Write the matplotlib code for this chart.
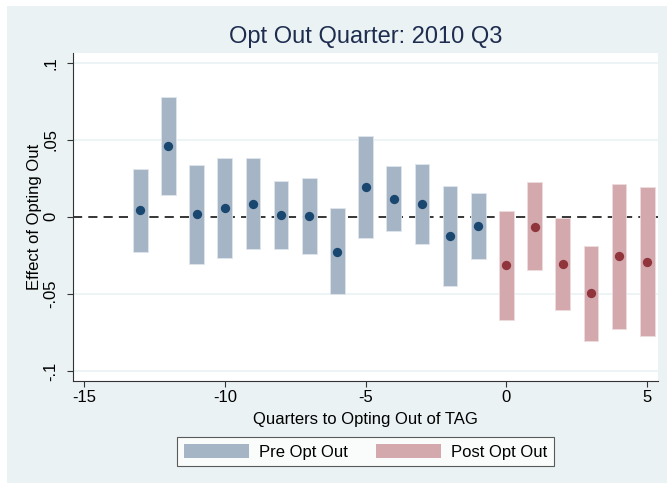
import matplotlib
matplotlib.use("Agg")
import matplotlib.pyplot as plt
from matplotlib.patches import Patch, Rectangle

plt.rcParams['font.family'] = ['Liberation Sans', 'DejaVu Sans']

# Data
pre_q = [-13, -12, -11, -10, -9, -8, -7, -6, -5, -4, -3, -2, -1]
pre_est = [0.0044, 0.0459, 0.0016, 0.0056, 0.0085, 0.0013, 0.0005, -0.0225, 0.0195, 0.0115, 0.0085, -0.0125, -0.0060]
pre_hi = [0.0312, 0.0775, 0.0334, 0.0379, 0.0379, 0.0232, 0.0251, 0.0056, 0.0524, 0.0327, 0.0342, 0.0199, 0.0156]
pre_lo = [-0.0225, 0.0143, -0.0303, -0.0266, -0.0210, -0.0210, -0.0244, -0.0502, -0.0136, -0.0095, -0.0173, -0.0450, -0.0275]

post_q = [0, 1, 2, 3, 4, 5]
post_est = [-0.0314, -0.0063, -0.0305, -0.0495, -0.0257, -0.0292]
post_hi = [0.0039, 0.0225, -0.0006, -0.0188, 0.0212, 0.0191]
post_lo = [-0.0666, -0.0348, -0.0604, -0.0805, -0.0727, -0.0775]

x_ticks = [-15, -10, -5, 0, 5]
y_ticks = [-0.1, -0.05, 0, 0.05, 0.1]
y_ticklabels = ['-.1', '-.05', '0', '.05', '.1']

pre_bar = '#a5b5c6'
pre_dot = '#1a476f'
post_bar = '#d3a9ae'
post_dot = '#90353b'
bg = '#eaf2f3'
txt = '#000000'

W, H = 667, 484
fig = plt.figure(figsize=(W / 100, H / 100), dpi=100, facecolor='white')
fig.patches.append(Rectangle((7 / W, 1 / H), 1 - 7 / W, 1 - 7 / H, transform=fig.transFigure,
                             facecolor=bg, edgecolor='none', zorder=-10))

ax = fig.add_axes([73 / W, 1 - 381 / H, (657.7 - 73) / W, (381 - 52.7) / H])
ax.set_facecolor('white')

for v in y_ticks:
    if v != 0:
        ax.axhline(v, color=bg, lw=1.2, zorder=0)
ax.axhline(0, color='black', lw=1.1, ls=(0, (6, 4)), zorder=1)

bw = 0.52
pre_h = [h - l for h, l in zip(pre_hi, pre_lo)]
post_h = [h - l for h, l in zip(post_hi, post_lo)]
ax.bar(pre_q, pre_h, bottom=pre_lo, width=bw, color=pre_bar, edgecolor='#dfe6ec', lw=0.6, zorder=2)
ax.bar(post_q, post_h, bottom=post_lo, width=bw, color=post_bar, edgecolor='#efdcdf', lw=0.6, zorder=2)
ax.scatter(pre_q, pre_est, s=45, color=pre_dot, zorder=3, linewidths=0)
ax.scatter(post_q, post_est, s=45, color=post_dot, zorder=3, linewidths=0)

ax.set_xlim(-15.39, 5.37)
ax.set_ylim(-0.1065, 0.1065)
ax.set_xticks(x_ticks)
ax.set_xticklabels([str(t) for t in x_ticks])
ax.set_yticks(y_ticks)
ax.set_yticklabels(y_ticklabels, rotation=90, va='center')

for s in ['top', 'right']:
    ax.spines[s].set_visible(False)
for s in ['left', 'bottom']:
    ax.spines[s].set_color('#333333')
    ax.spines[s].set_linewidth(0.8)
ax.tick_params(axis='both', direction='out', length=4.5, width=0.8, color='#333333',
               labelsize=12, labelcolor=txt)
ax.tick_params(axis='x', pad=2)
ax.tick_params(axis='y', pad=6)

ax.set_xlabel('Quarters to Opting Out of TAG', fontsize=12, color=txt, labelpad=5)
ax.set_ylabel('Effect of Opting Out', fontsize=12, color=txt, labelpad=1)
ax.set_title('Opt Out Quarter: 2010 Q3', fontsize=17, color='#1e2d4f', pad=7)

handles = [Patch(facecolor=pre_bar, edgecolor='none', label='Pre Opt Out'),
           Patch(facecolor=post_bar, edgecolor='none', label='Post Opt Out')]
leg = fig.legend(handles=handles, loc='center', bbox_to_anchor=(365.3 / W, 1 - 451.7 / H),
                 ncol=2, fontsize=12, frameon=True, fancybox=False, edgecolor='#333333',
                 handlelength=3.9, handleheight=0.9, handletextpad=0.6, columnspacing=1.7,
                 borderpad=0.4, borderaxespad=0)
leg.get_frame().set_linewidth(0.8)

fig.savefig('out.png', dpi=100, facecolor=fig.get_facecolor())
